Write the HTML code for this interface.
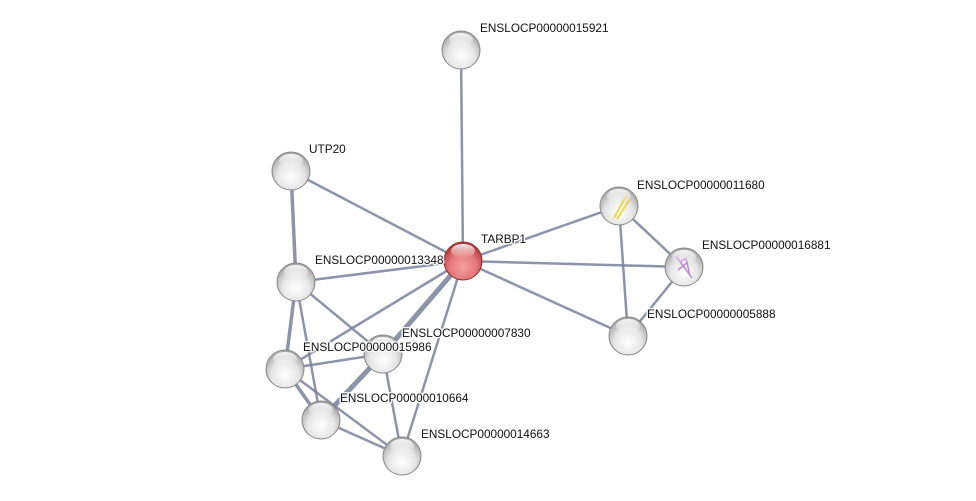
<!DOCTYPE html>
<html><head><meta charset="utf-8"><style>
html,body{margin:0;padding:0;background:#fff;width:976px;height:501px;overflow:hidden}
text{font-family:"Liberation Sans",sans-serif;font-size:11.8px;fill:#111;stroke:#fff;stroke-width:3px;stroke-opacity:0.85;paint-order:stroke;stroke-linejoin:round}
</style></head><body>
<svg width="976" height="501" viewBox="0 0 976 501" xmlns="http://www.w3.org/2000/svg">
<defs>
<radialGradient id="g" cx="50%" cy="65%" r="60%">
<stop offset="0" stop-color="#ffffff"/><stop offset="0.6" stop-color="#e6e6e6"/><stop offset="1" stop-color="#a8a8a8"/>
</radialGradient>
<radialGradient id="r" cx="50%" cy="65%" r="60%">
<stop offset="0" stop-color="#f5a0a0"/><stop offset="0.6" stop-color="#e57878"/><stop offset="1" stop-color="#b03a3a"/>
</radialGradient>
<linearGradient id="hl" x1="0" y1="0" x2="0" y2="1">
<stop offset="0" stop-color="#fff" stop-opacity="0.9"/><stop offset="1" stop-color="#fff" stop-opacity="0"/>
</linearGradient>
</defs>
<g stroke="#79809a" stroke-opacity="0.85" stroke-width="2.5" fill="none">
<line x1="461" y1="50" x2="463" y2="261"/>
<line x1="291" y1="171" x2="463" y2="261"/>
<line x1="291" y1="171" x2="296" y2="282" stroke-width="3.5"/>
<line x1="463" y1="261" x2="619" y2="206"/>
<line x1="463" y1="261" x2="684" y2="267"/>
<line x1="463" y1="261" x2="628" y2="336"/>
<line x1="619" y1="206" x2="684" y2="267"/>
<line x1="619" y1="206" x2="628" y2="336"/>
<line x1="684" y1="267" x2="628" y2="336"/>
<line x1="463" y1="261" x2="296" y2="282"/>
<line x1="463" y1="261" x2="383" y2="354" stroke-width="5"/>
<line x1="463" y1="261" x2="285" y2="369"/>
<line x1="463" y1="261" x2="402" y2="456"/>
<line x1="296" y1="282" x2="383" y2="354"/>
<line x1="296" y1="282" x2="285" y2="369" stroke-width="3.5"/>
<line x1="296" y1="282" x2="321" y2="420"/>
<line x1="285" y1="369" x2="383" y2="354"/>
<line x1="285" y1="369" x2="321" y2="420" stroke-width="3.5"/>
<line x1="285" y1="369" x2="402" y2="456"/>
<line x1="383" y1="354" x2="321" y2="420" stroke-width="5"/>
<line x1="383" y1="354" x2="402" y2="456"/>
<line x1="321" y1="420" x2="402" y2="456"/>
</g>
<g>
<circle cx="461" cy="50" r="19" fill="url(#g)" stroke="#888" stroke-width="1"/>
<circle cx="291" cy="171" r="19" fill="url(#g)" stroke="#888" stroke-width="1"/>
<circle cx="619" cy="206" r="19" fill="url(#g)" stroke="#888" stroke-width="1"/>
<circle cx="684" cy="267" r="19" fill="url(#g)" stroke="#888" stroke-width="1"/>
<circle cx="628" cy="336" r="19" fill="url(#g)" stroke="#888" stroke-width="1"/>
<circle cx="296" cy="282" r="19" fill="url(#g)" stroke="#888" stroke-width="1"/>
<circle cx="383" cy="354" r="19" fill="url(#g)" stroke="#888" stroke-width="1"/>
<circle cx="285" cy="369" r="19" fill="url(#g)" stroke="#888" stroke-width="1"/>
<circle cx="321" cy="420" r="19" fill="url(#g)" stroke="#888" stroke-width="1"/>
<circle cx="402" cy="456" r="19" fill="url(#g)" stroke="#888" stroke-width="1"/>
<circle cx="463" cy="261" r="19" fill="url(#r)" stroke="#8a3030" stroke-width="1"/>
<path d="M614 218 L626 196 M617 219 L630 199" stroke="#e6d020" stroke-width="2" opacity="0.8"/>
<path d="M676 256 L692 278 M680 262 L686 258 L690 276 M678 270 L688 262" stroke="#b070d0" stroke-width="1.5" fill="none" opacity="0.8"/>
<g fill="url(#hl)">
<ellipse cx="461" cy="40" rx="12" ry="7"/><ellipse cx="291" cy="161" rx="12" ry="7"/>
<ellipse cx="619" cy="196" rx="12" ry="7"/><ellipse cx="684" cy="257" rx="12" ry="7"/>
<ellipse cx="628" cy="326" rx="12" ry="7"/><ellipse cx="296" cy="272" rx="12" ry="7"/>
<ellipse cx="383" cy="344" rx="12" ry="7"/><ellipse cx="285" cy="359" rx="12" ry="7"/>
<ellipse cx="321" cy="410" rx="12" ry="7"/><ellipse cx="402" cy="446" rx="12" ry="7"/>
<ellipse cx="463" cy="251" rx="12" ry="7"/>
</g>
</g>
<text x="480" y="32">ENSLOCP00000015921</text>
<text x="309" y="153">UTP20</text>
<text x="637" y="189">ENSLOCP00000011680</text>
<text x="481" y="243">TARBP1</text>
<text x="702" y="249">ENSLOCP00000016881</text>
<text x="315" y="264">ENSLOCP00000013348</text>
<text x="647" y="318">ENSLOCP00000005888</text>
<text x="402" y="337">ENSLOCP00000007830</text>
<text x="303" y="351">ENSLOCP00000015986</text>
<text x="340" y="402">ENSLOCP00000010664</text>
<text x="421" y="438">ENSLOCP00000014663</text>
</svg>
</body></html>
